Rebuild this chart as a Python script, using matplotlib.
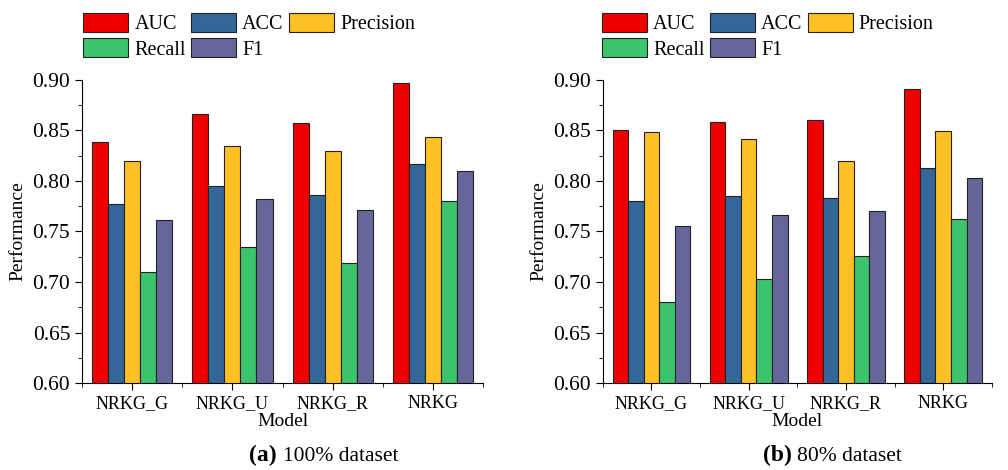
import numpy as np
import matplotlib
matplotlib.use("Agg")
import matplotlib.pyplot as plt
from matplotlib.ticker import MultipleLocator

plt.rcParams['font.family'] = ['Liberation Serif', 'DejaVu Serif']

models = ["NRKG_G", "NRKG_U", "NRKG_R", "NRKG"]
metrics = ["AUC", "ACC", "Precision", "Recall", "F1"]
colors = ["#EE0000", "#336699", "#FFC125", "#3CC36E", "#66669A"]

# 100% dataset
auc_a = [0.839, 0.866, 0.857, 0.897]
acc_a = [0.777, 0.795, 0.786, 0.817]
prec_a = [0.820, 0.835, 0.830, 0.843]
rec_a = [0.710, 0.735, 0.719, 0.780]
f1_a = [0.761, 0.782, 0.771, 0.810]

# 80% dataset
auc_b = [0.850, 0.858, 0.860, 0.891]
acc_b = [0.780, 0.785, 0.783, 0.813]
prec_b = [0.848, 0.842, 0.820, 0.849]
rec_b = [0.680, 0.703, 0.726, 0.762]
f1_b = [0.755, 0.766, 0.770, 0.803]

fig = plt.figure(figsize=(10.08, 4.70), dpi=100)
ax1 = fig.add_axes([0.0813, 0.185, 0.398, 0.645])
ax2 = fig.add_axes([0.598, 0.185, 0.386, 0.645])

panels = [
    (ax1, [auc_a, acc_a, prec_a, rec_a, f1_a], "(a)", "100% dataset", 0.0823),
    (ax2, [auc_b, acc_b, prec_b, rec_b, f1_b], "(b)", "80% dataset", 0.597),
]

x = np.arange(len(models))
w = 0.16
for ax, series, tag, cap, legx in panels:
    bars = []
    for i, vals in enumerate(series):
        b = ax.bar(x + (i - 2) * w, vals, w, color=colors[i], edgecolor="#222222",
                   linewidth=0.8, label=metrics[i])
        bars.append(b)
    ax.set_xlim(-0.5, 3.5)
    ax.set_ylim(0.60, 0.90)
    ax.yaxis.set_major_locator(MultipleLocator(0.05))
    ax.yaxis.set_minor_locator(MultipleLocator(0.025))
    ax.set_xticks(x)
    ax.set_xticks(np.arange(-0.5, 4, 1.0), minor=True)
    ax.set_xticklabels(models, fontsize=13)
    ax.tick_params(axis='y', labelsize=15.5, length=5, direction='out')
    ax.tick_params(axis='y', which='minor', length=3)
    ax.tick_params(axis='x', length=5, direction='out')
    ax.tick_params(axis='x', which='minor', length=3)
    ax.set_yticklabels(["%.2f" % v for v in ax.get_yticks()])
    for s in ["top", "right"]:
        ax.spines[s].set_visible(False)
    ax.set_xlabel("Model", fontsize=14, labelpad=1)
    ax.set_ylabel("Performance", fontsize=14, labelpad=4)
    # legend filled row by row: AUC ACC Precision / Recall F1
    order = [0, 3, 1, 4, 2]
    ax.legend([bars[k] for k in order], [metrics[k] for k in order],
              loc="upper left", bbox_to_anchor=(legx, 0.972), bbox_transform=fig.transFigure,
              ncol=3, frameon=False, fontsize=14.5, handlelength=2.25, handleheight=1.05,
              handletextpad=0.3, columnspacing=0.25, labelspacing=0.2, borderpad=0,
              borderaxespad=0)
    pos = ax.get_position()
    cx = (pos.x0 + pos.x1) / 2
    fig.text(cx, 0.008, tag + " ", fontsize=17, fontweight="bold", ha="right", va="bottom")
    fig.text(cx, 0.008, cap, fontsize=15.5, ha="left", va="bottom")

fig.savefig("out.png", dpi=100)
